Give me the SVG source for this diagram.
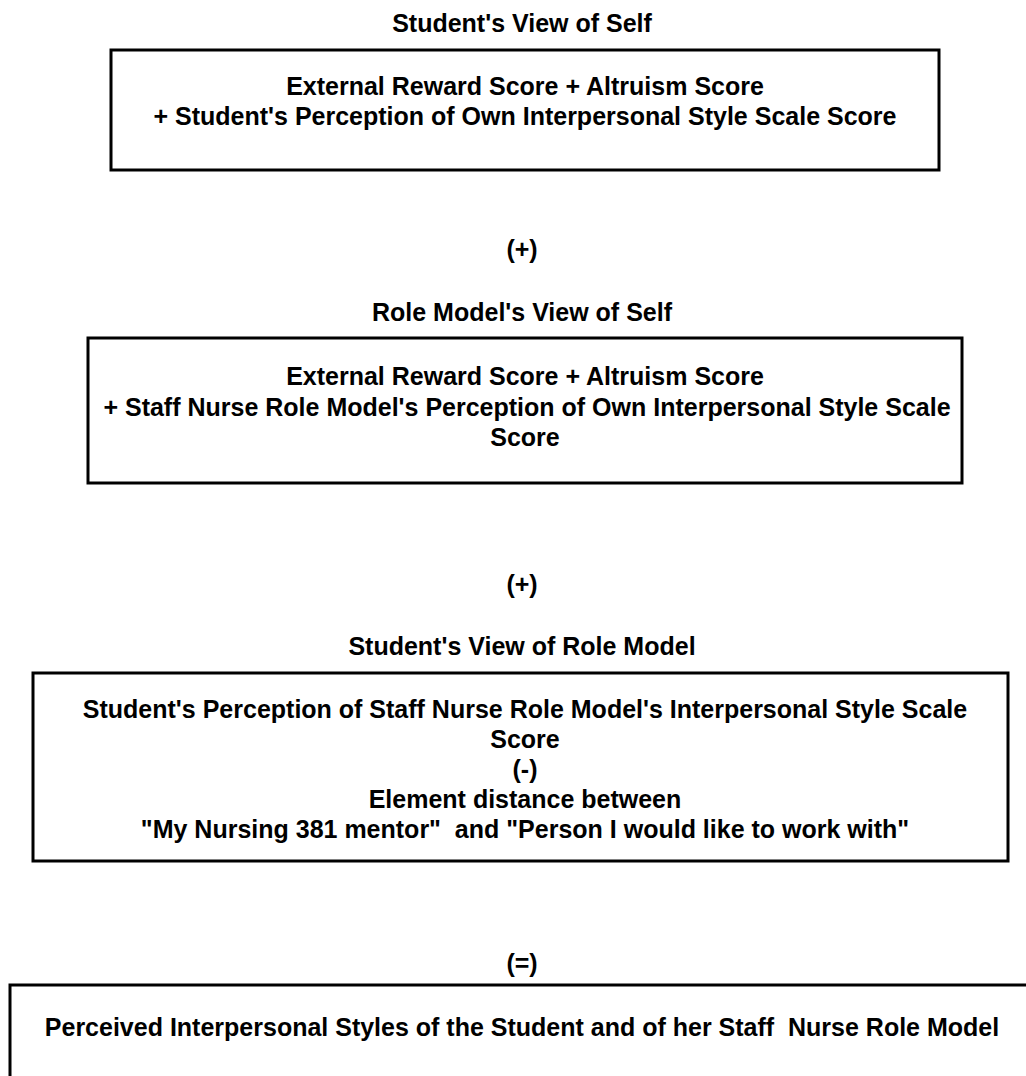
<svg xmlns="http://www.w3.org/2000/svg" width="1026" height="1076" viewBox="0 0 1026 1076">
<style>
.t{font-family:"Liberation Sans",Arial,Helvetica,sans-serif;font-weight:bold;font-size:25px;fill:#000;text-anchor:middle;white-space:pre}
.box{fill:none;stroke:#000;stroke-width:3}
</style>
<rect x="0" y="0" width="1026" height="1076" fill="#fff"/>
<g id="student-view-of-self">
<text class="t" x="522" y="32">Student's View of Self</text>
<rect class="box" x="111" y="50" width="828" height="120"/>
<text class="t" x="525" y="95">External Reward Score + Altruism Score</text>
<text class="t" x="525" y="125">+ Student's Perception of Own Interpersonal Style Scale Score</text>
</g>
<g id="role-model-view-of-self">
<text class="t" x="522" y="321">Role Model's View of Self</text>
<rect class="box" x="88" y="338" width="874" height="145"/>
<text class="t" x="525" y="385">External Reward Score + Altruism Score</text>
<text class="t" x="527" y="416">+ Staff Nurse Role Model's Perception of Own Interpersonal Style Scale</text>
<text class="t" x="525" y="446">Score</text>
</g>
<g id="student-view-of-role-model">
<text class="t" x="522" y="655">Student's View of Role Model</text>
<rect class="box" x="33" y="673" width="975" height="188"/>
<text class="t" x="525" y="718">Student's Perception of Staff Nurse Role Model's Interpersonal Style Scale</text>
<text class="t" x="525" y="748">Score</text>
<text class="t" x="525" y="778">(-)</text>
<text class="t" x="525" y="808">Element distance between</text>
<text class="t" x="525" y="838" xml:space="preserve">"My Nursing 381 mentor"  and "Person I would like to work with"</text>
</g>
<g id="perceived-styles">
<rect class="box" x="10" y="985" width="1030" height="110"/>
<text class="t" x="522" y="1036" xml:space="preserve">Perceived Interpersonal Styles of the Student and of her Staff  Nurse Role Model</text>
</g>
<g id="connectors">
<text class="t" x="522" y="258">(+)</text>
<text class="t" x="522" y="593">(+)</text>
<text class="t" x="522" y="972">(=)</text>
</g>
</svg>
